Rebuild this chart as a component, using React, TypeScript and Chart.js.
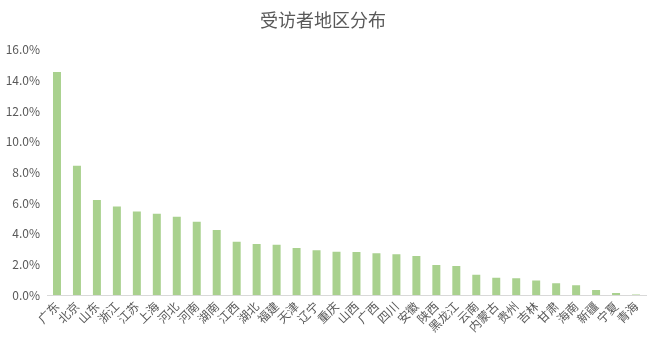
import React, { useEffect, useRef } from "react";
import { Chart, registerables } from "chart.js";

Chart.register(...registerables);

const title = "受访者地区分布";
const categories = ["广东", "北京", "山东", "浙江", "江苏", "上海", "河北", "河南", "湖南", "江西", "湖北", "福建", "天津", "辽宁", "重庆", "山西", "广西", "四川", "安徽", "陕西", "黑龙江", "云南", "内蒙古", "贵州", "吉林", "甘肃", "海南", "新疆", "宁夏", "青海"];
const shares = [14.54, 8.42, 6.2, 5.77, 5.45, 5.29, 5.1, 4.77, 4.23, 3.47, 3.32, 3.28, 3.06, 2.91, 2.82, 2.8, 2.73, 2.65, 2.54, 1.95, 1.89, 1.32, 1.13, 1.09, 0.95, 0.76, 0.63, 0.33, 0.13, 0.04];
const yMin = 0;
const yMax = 16;
const yStep = 2;

const FONT = "'Noto Sans CJK SC', 'Noto Sans', sans-serif";

export default function App() {
  const ref = useRef<HTMLCanvasElement>(null);
  useEffect(() => {
    document.body.style.margin = "0";
    const ctx = ref.current!.getContext("2d")!;
    const chart = new Chart(ctx, {
      type: "bar",
      data: {
        labels: categories,
        datasets: [
          {
            data: shares,
            backgroundColor: "#a9d18e",
            borderWidth: 0,
            barPercentage: 0.5,
            categoryPercentage: 0.8,
          },
        ],
      },
      options: {
        animation: false,
        responsive: false,
        maintainAspectRatio: false,
        layout: { padding: { left: 0, right: 14, top: 0, bottom: 0 } },
        plugins: {
          legend: { display: false },
          tooltip: { enabled: false },
          title: {
            display: true,
            text: title,
            color: "#595959",
            font: { family: FONT, size: 18, weight: "normal" },
            padding: { top: 9, bottom: 19 },
          },
        },
        scales: {
          x: {
            grid: { display: false, drawTicks: false },
            border: { display: true, color: "#d9d9d9", width: 1 },
            ticks: {
              color: "#595959",
              font: { family: FONT, size: 12 },
              maxRotation: 45,
              minRotation: 45,
              autoSkip: false,
              padding: 4,
            },
            afterFit: (scale: any) => {
              scale.height = 61;
            },
          },
          y: {
            min: yMin,
            max: yMax,
            grid: { display: false, drawTicks: false },
            border: { display: false },
            ticks: {
              stepSize: yStep,
              color: "#595959",
              font: { family: FONT, size: 12 },
              padding: 7,
              callback: (v: any) => Number(v).toFixed(1) + "%",
            },
            afterFit: (scale: any) => {
              scale.width = 47;
            },
          },
        },
      },
    });
    return () => chart.destroy();
  }, []);
  return (
    <div style={{ position: "absolute", left: 0, top: 0, width: 660, height: 356, background: "#fff" }}>
      <canvas ref={ref} width={660} height={356} style={{ width: 660, height: 356 }} />
    </div>
  );
}
